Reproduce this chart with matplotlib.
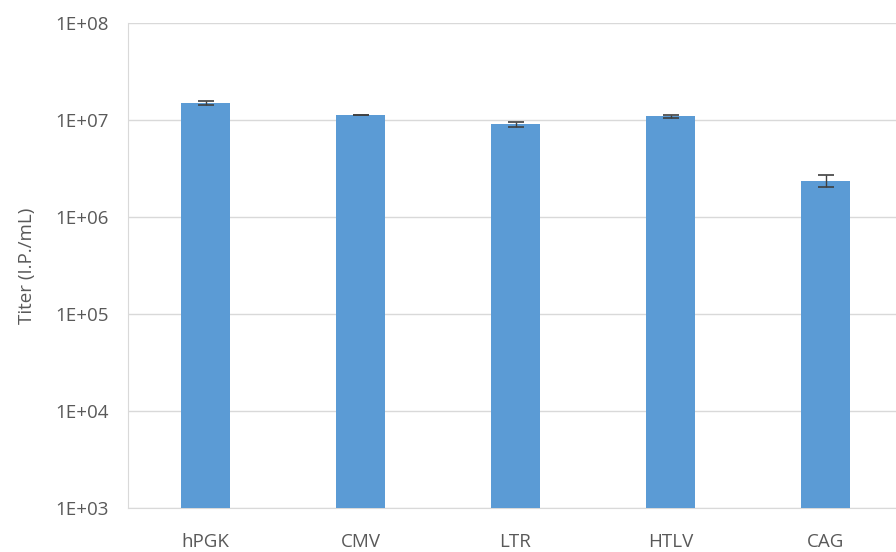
import matplotlib
matplotlib.use("Agg")
import matplotlib.pyplot as plt
from matplotlib.ticker import FixedLocator, NullLocator

promoters = ["hPGK", "CMV", "LTR", "HTLV", "CAG"]
titer = [1.49e7, 1.125e7, 9.0e6, 1.09e7, 2.37e6]
titer_err = [0.7e6, 0.1e6, 0.5e6, 0.45e6, 0.32e6]
ytick_vals = [1e3, 1e4, 1e5, 1e6, 1e7, 1e8]
ytick_labels = ["1E+03", "1E+04", "1E+05", "1E+06", "1E+07", "1E+08"]

plt.rcParams["font.family"] = ["Open Sans", "DejaVu Sans"]
text_color = "#595959"
grid_color = "#D9D9D9"

W, H = 896, 552
fig = plt.figure(figsize=(W / 100, H / 100), dpi=100)
left, right, top, bottom = 128, 903, 23, 508
ax = fig.add_axes([left / W, 1 - bottom / H, (right - left) / W, (bottom - top) / H])

x = list(range(len(promoters)))
ax.bar(x, titer, width=0.32, color="#5B9BD5", zorder=3)
ax.errorbar(x, titer, yerr=titer_err, fmt="none", ecolor="#404040",
            elinewidth=1.0, capsize=6, capthick=1.2, zorder=4)

ax.set_yscale("log")
ax.set_ylim(1e3, 1e8)
ax.set_xlim(-0.5, len(promoters) - 0.5)
ax.yaxis.set_major_locator(FixedLocator(ytick_vals))
ax.yaxis.set_minor_locator(NullLocator())
ax.set_yticklabels(ytick_labels)
ax.set_xticks(x)
ax.set_xticklabels(promoters)

ax.grid(axis="y", color=grid_color, linewidth=1.0, zorder=0)
for side in ["top", "right"]:
    ax.spines[side].set_visible(False)
ax.spines["left"].set_color(grid_color)
ax.spines["bottom"].set_color(grid_color)
ax.tick_params(axis="both", length=0, colors=text_color, labelsize=13.5)
ax.tick_params(axis="y", pad=14)
ax.tick_params(axis="x", pad=18)

ax.set_ylabel("Titer (I.P./mL)", color=text_color, fontsize=13.5, labelpad=14)

fig.savefig("out.png", dpi=100)
